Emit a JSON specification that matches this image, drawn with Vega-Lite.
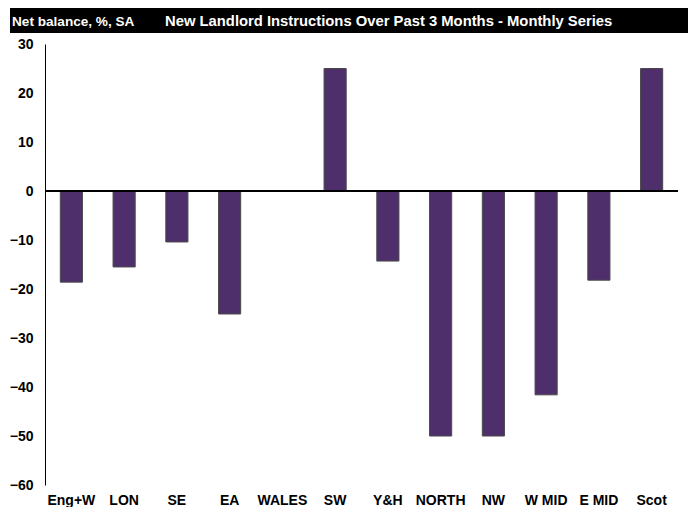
{
  "$schema": "https://vega.github.io/schema/vega-lite/v6.json",
  "background": "white",
  "padding": {"left": 9, "top": 8, "right": 0, "bottom": 0},
  "config": {
    "view": {"stroke": null},
    "font": "Liberation Sans, Arial, sans-serif"
  },
  "spacing": 4,
  "vconcat": [
    {
      "width": 643,
      "height": 25,
      "data": {"values": [
        {"part": "unit", "label": "Net balance, %, SA"},
        {"part": "title", "label": "New Landlord Instructions Over Past 3 Months - Monthly Series"}
      ]},
      "layer": [
        {
          "mark": {"type": "rect", "color": "black"},
          "encoding": {
            "x": {"datum": 0, "type": "quantitative", "axis": null,
                  "scale": {"domain": [0, 1], "range": [-35, 645], "nice": false, "zero": false}},
            "x2": {"datum": 1}
          }
        },
        {
          "transform": [{"filter": "datum.part === 'unit'"}],
          "mark": {"type": "text", "color": "white", "fontWeight": "bold", "fontSize": 13.6, "align": "left", "baseline": "middle", "dy": 1},
          "encoding": {
            "x": {"field": "part", "type": "nominal", "axis": null,
                  "scale": {"type": "point", "domain": ["unit", "title"], "range": [-33, 120], "padding": 0}},
            "text": {"field": "label", "type": "nominal"}
          }
        },
        {
          "transform": [{"filter": "datum.part === 'title'"}],
          "mark": {"type": "text", "color": "white", "fontWeight": "bold", "fontSize": 14.8, "align": "left", "baseline": "middle", "dy": 1},
          "encoding": {
            "x": {"field": "part", "type": "nominal", "axis": null,
                  "scale": {"type": "point", "domain": ["unit", "title"], "range": [-33, 120], "padding": 0}},
            "text": {"field": "label", "type": "nominal"}
          }
        }
      ],
      "resolve": {"scale": {"x": "independent"}}
    },
    {
      "width": 633,
      "height": 441,
      "data": {"values": [
        {"region": "Eng+W", "value": -18.6},
        {"region": "LON", "value": -15.5},
        {"region": "SE", "value": -10.4},
        {"region": "EA", "value": -25.1},
        {"region": "WALES", "value": 0},
        {"region": "SW", "value": 25},
        {"region": "Y&H", "value": -14.3},
        {"region": "NORTH", "value": -50},
        {"region": "NW", "value": -50},
        {"region": "W MID", "value": -41.6},
        {"region": "E MID", "value": -18.2},
        {"region": "Scot", "value": 25}
      ]},
      "layer": [
        {
          "mark": {"type": "bar", "color": "#4E2F6B", "stroke": "#4a4a4a", "strokeWidth": 1},
          "encoding": {
            "x": {"field": "region", "type": "nominal", "sort": null,
                  "scale": {"paddingInner": 0.58, "paddingOuter": 0.29},
                  "axis": {"title": null, "labelAngle": 0, "domain": false, "ticks": false, "labelPadding": 8,
                           "labelFontSize": 14, "labelFontWeight": "bold", "labelColor": "black"}},
            "y": {"field": "value", "type": "quantitative",
                  "scale": {"domain": [-60, 30], "nice": false, "zero": false},
                  "axis": {"title": null, "values": [-60, -50, -40, -30, -20, -10, 0, 10, 20, 30],
                           "grid": false, "ticks": false, "domainColor": "black", "domainWidth": 1,
                           "labelPadding": 12, "labelFontSize": 14, "labelFontWeight": "bold", "labelColor": "black",
                           "minExtent": 35, "maxExtent": 35}}
          }
        },
        {
          "mark": {"type": "rule", "color": "black", "strokeWidth": 1.5},
          "encoding": {"y": {"datum": 0}}
        }
      ]
    }
  ]
}
